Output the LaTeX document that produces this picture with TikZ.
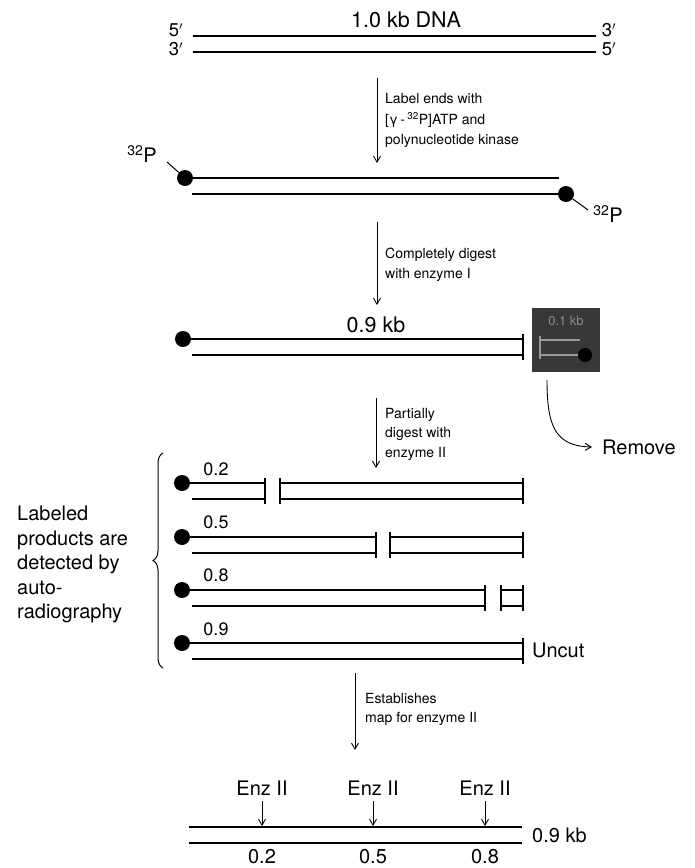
\documentclass[tikz,border=0pt]{standalone}
\usepackage{fontspec}
\setmainfont{TeX Gyre Heros}
\usetikzlibrary{arrows.meta,decorations.pathreplacing}
\newcommand{\dnafrag}[4]{% #1 left x (top), #2 left x (bottom), #3 right x, #4 top y
  \draw[strand] (#1,#4) -- (#3,#4);
  \draw[strand] (#2,#4+16) -- (#3,#4+16);
}
\newcommand{\cutbar}[2]{\draw[endbar] (#1,#2-5) -- (#1,#2+21);}
\begin{document}
\begin{tikzpicture}[x=1pt,y=-1pt,
  strand/.style={line width=2.8pt},
  endbar/.style={line width=1.9pt},
  flow/.style={line width=0.9pt,-{Straight Barb[length=6pt,width=7pt,line width=0.9pt]}},
  pdot/.style={circle,fill=black,inner sep=0pt,minimum size=16pt},
  small/.style={font=\fontsize{14}{19.5}\selectfont,align=left,anchor=north west,inner sep=0pt},
  big/.style={font=\fontsize{20}{24.5}\selectfont,inner sep=0pt},
  mid/.style={font=\fontsize{21.5}{24}\selectfont,inner sep=0pt},
  lab/.style={font=\fontsize{18}{20}\selectfont,inner sep=0pt},
  prime/.style={font=\fontsize{18.5}{20}\selectfont,inner sep=0pt},
]
\useasboundingbox (0,0) rectangle (695,868);

% ---- top: 1.0 kb DNA
\node[mid] (dnaT) at (406,20) {1.0 kb DNA};
\node[prime] (l5) at (176,30) {5$'$};
\node[prime] (l3) at (176,49) {3$'$};
\node[prime] (r3) at (609,30) {3$'$};
\node[prime] (r5) at (609,49) {5$'$};
\draw[strand] (193,36) -- (596,36);
\draw[strand] (193,52) -- (596,52);

% ---- arrow 1
\coordinate (a1s) at (377,78);
\coordinate (a1e) at (377,163);
\draw[flow] (a1s) -- (a1e);
\node[small] (t1) at (385,93) {Label ends with\\[2pt][γ\,-\,\textsuperscript{32}P]ATP and\\polynucleotide kinase};

% ---- labelled 1.0 kb
\draw[strand] (185,178) -- (559,178);
\draw[strand] (192,194) -- (566,194);
\node[pdot] (d1) at (185,178) {};
\node[pdot] (d2) at (566,194) {};
\coordinate (k1) at (167,162);
\draw[line width=1pt] (k1) -- (d1);
\coordinate (k2) at (588,210);
\draw[line width=1pt] (d2) -- (k2);
\node[big] (p1) at (142,154) {\textsuperscript{32}P};
\node[big] (p2) at (608,214) {\textsuperscript{32}P};

% ---- arrow 2
\coordinate (a2s) at (377,222);
\coordinate (a2e) at (377,305);
\draw[flow] (a2s) -- (a2e);
\node[small] (t2) at (385,248) {Completely digest\\with enzyme I};

% ---- 0.9 kb fragment
\node[mid] (k09) at (376,325) {0.9 kb};
\dnafrag{183}{192}{523}{339}
\cutbar{523}{339}
\node[pdot] (d3) at (183,339) {};

% removed 0.1 kb piece (shaded)
\node[draw=none,fill=black!78,minimum width=68pt,minimum height=64pt,inner sep=0pt] (rm) at (566,340) {};
\node[font=\fontsize{13}{15}\selectfont,text=black!45,inner sep=0pt] (k01) at (566,321) {0.1 kb};
\draw[line width=1.5pt,black!40] (540,340) -- (580,340);
\draw[line width=1.5pt,black!40] (540,355) -- (585,355);
\draw[line width=1.2pt,black!40] (540,336) -- (540,359);
\node[circle,fill=black,inner sep=0pt,minimum size=14pt] (d4) at (585,355) {};

\coordinate (rms) at (547,380);
\node[big,anchor=west] (remove) at (602,447) {Remove};
\draw[flow] (rms) .. controls (547,428) and (556,446) .. ([xshift=-10pt]remove.west);

% ---- arrow 3
\coordinate (a3s) at (376,398);
\coordinate (a3e) at (376,468);
\draw[flow] (a3s) -- (a3e);
\node[small] (t3) at (385,408) {Partially\\digest with\\enzyme II};

% ---- partial digests
% row 0.2
\dnafrag{182}{192}{265}{483} \cutbar{265}{483}
\dnafrag{280}{280}{523}{483} \cutbar{280}{483} \cutbar{523}{483}
\node[pdot] (e1) at (182,483) {};
\node[lab] (n1) at (216,469) {0.2};
% row 0.5
\dnafrag{182}{192}{376}{537} \cutbar{376}{537}
\dnafrag{390}{390}{523}{537} \cutbar{390}{537} \cutbar{523}{537}
\node[pdot] (e2) at (182,537) {};
\node[lab] (n2) at (216,522) {0.5};
% row 0.8
\dnafrag{182}{192}{485}{590} \cutbar{485}{590}
\dnafrag{501}{501}{523}{590} \cutbar{501}{590} \cutbar{523}{590}
\node[pdot] (e3) at (182,590) {};
\node[lab] (n3) at (216,575) {0.8};
% row 0.9
\dnafrag{182}{192}{523}{643} \cutbar{523}{643}
\node[pdot] (e4) at (182,643) {};
\node[lab] (n4) at (216,629) {0.9};
\node[big,anchor=west] (uncut) at (532,650) {Uncut};

% brace and left text
\coordinate (bb) at (163,668);
\coordinate (bt) at (163,453);
\draw[line width=1pt,decorate,decoration={brace,amplitude=10pt}] (bb) -- (bt);
\node[big,align=left,anchor=north west] (ltxt) at (17,506) {Labeled\\products are\\detected by\\auto-\\radiography};

% ---- arrow 4
\coordinate (a4s) at (355,673);
\coordinate (a4e) at (355,750);
\draw[flow] (a4s) -- (a4e);
\node[small] (t4) at (365,693) {Establishes\\map for enzyme II};

% ---- map
\draw[strand] (189,827) -- (522,827);
\draw[strand] (189,843) -- (522,843);
\node[big,anchor=west] (k09b) at (532,835) {0.9 kb};
\foreach \xx/\nm/\v in {262/ea/0.2, 373/eb/0.5, 485/ec/0.8}{
  \node[big] (\nm) at (\xx,788) {Enz II};
  \coordinate (\nm t) at (\xx,826);
  \draw[flow] (\nm.south) ++(0,5) -- (\nm t);
  \node[big] (\nm v) at (\xx,857) {\v};
}
\end{tikzpicture}
\end{document}
